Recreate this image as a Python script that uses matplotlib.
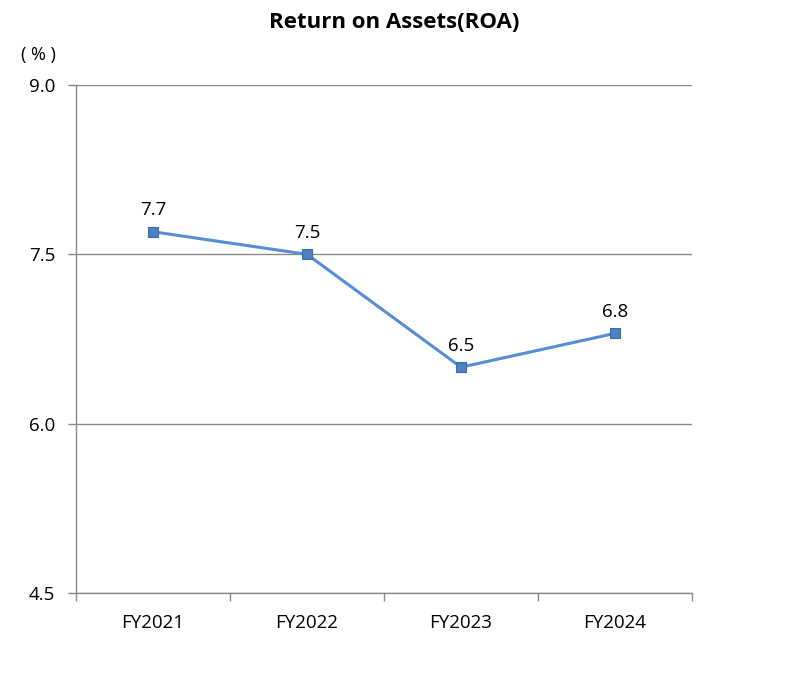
import matplotlib.pyplot as plt
import numpy as np

plt.rcParams['font.family'] = ['Open Sans', 'Noto Sans CJK JP', 'DejaVu Sans']

years = ['FY2021', 'FY2022', 'FY2023', 'FY2024']
roa = [7.7, 7.5, 6.5, 6.8]
yticks = [4.5, 6.0, 7.5, 9.0]

fig = plt.figure(figsize=(7.89, 6.75), dpi=100)
ax = fig.add_axes([76/789, 82/675, 616/789, 508/675])

x = np.arange(len(years)) + 0.5
ax.plot(x, roa, color='#558ED5', lw=2.2, marker='s', ms=7,
        mfc='#4F81BD', mec='#3A6DB0', mew=0.8, zorder=3)
for xi, v in zip(x, roa):
    ax.annotate('{:.1f}'.format(v), (xi, v), xytext=(0, 9), textcoords='offset points',
                ha='center', va='bottom', fontsize=13.5)

ax.set_xlim(0, len(years))
ax.set_ylim(4.5, 9.0)
ax.set_yticks(yticks)
ax.set_yticklabels(['{:.1f}'.format(t) for t in yticks], fontsize=13.5)
ax.set_xticks(np.arange(len(years) + 1))
ax.set_xticklabels([])
ax.set_xticks(x, minor=True)
ax.set_xticklabels(years, minor=True, fontsize=13.5)
ax.tick_params(axis='x', which='major', length=6, color='#898989', width=1)
ax.tick_params(axis='x', which='minor', length=0, pad=15)
ax.tick_params(axis='y', length=6, color='#898989', width=1, pad=9)
ax.grid(axis='y', color='#898989', lw=1)
ax.set_axisbelow(True)
for s in ['top', 'right']:
    ax.spines[s].set_visible(False)
for s in ['left', 'bottom']:
    ax.spines[s].set_color('#898989')
    ax.spines[s].set_linewidth(1)

fig.text(0.5, 1 - 23/675, 'Return on Assets(ROA)', ha='center', va='center',
         fontsize=16, fontweight='bold')
fig.text(38/789, 1 - 55/675, '( % )', ha='center', va='center', fontsize=13)

fig.savefig('out.png', dpi=100)
